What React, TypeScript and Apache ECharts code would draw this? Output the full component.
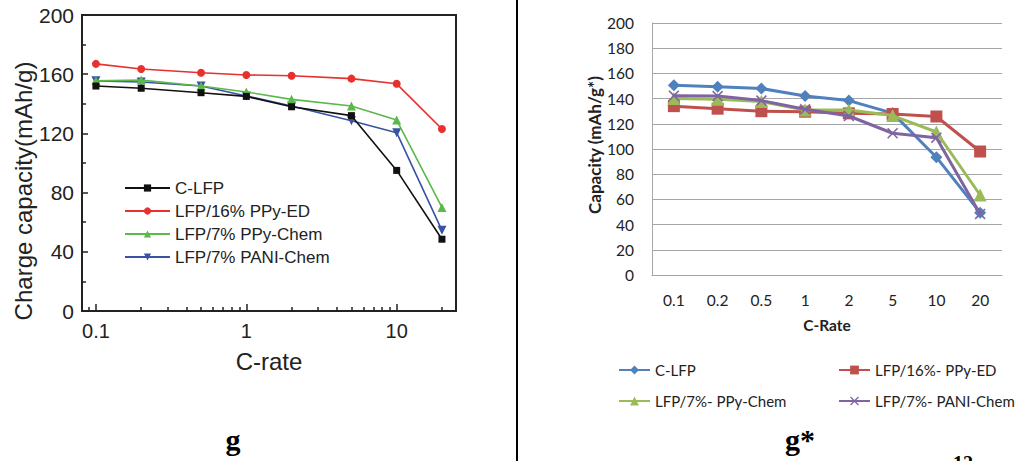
import React, { useEffect, useRef } from "react";
import * as echarts from "echarts";

// ---------- shared ----------
const rates = [0.1, 0.2, 0.5, 1, 2, 5, 10, 20];
const rateLabels = ["0.1", "0.2", "0.5", "1", "2", "5", "10", "20"];

// ---------- left panel (g) ----------
const gNames = ["C-LFP", "LFP/16% PPy-ED", "LFP/7% PPy-Chem", "LFP/7% PANI-Chem"];
const gCLFP = [152, 150.5, 147.5, 145, 138, 132, 95, 48.5];
const gPPyED = [167, 163.5, 161, 159.5, 159, 157, 153.5, 123];
const gPPyChem = [155.5, 156, 152, 148, 143, 138.5, 129, 70];
const gPANIChem = [155.5, 154.7, 152, 145.3, 138.5, 128.6, 120.5, 54.5];
const gMajorTicks = [0.1, 1, 10];
const gMinorTicks = [0.09, 0.2, 0.3, 0.4, 0.5, 0.6, 0.7, 0.8, 0.9, 2, 3, 4, 5, 6, 7, 8, 9, 20];
const gXMin = 0.0808;
const gXMax = 24.8;

// ---------- right panel (g*) ----------
const sNames = ["C-LFP ", "LFP/16%- PPy-ED", "LFP/7%- PPy-Chem", "LFP/7%- PANI-Chem"];
const sCLFP = [150.5, 149.5, 148, 142, 138.4, 128.5, 93.5, 49.5];
const sPPyED = [134, 132, 130, 129.6, 128.3, 127.8, 125.8, 98];
const sPPyChem = [140, 139.5, 137.6, 131, 131, 126.5, 113.5, 63.5];
const sPANIChem = [142.3, 142, 138.4, 131.5, 126.2, 112.5, 109, 48.5];

const L = (v: number) => Math.log10(v);
const gPairs = (vals: number[]) => rates.map((r, i) => [L(r), vals[i]]);

const XPATH = "path://M0,1L1,0L5,4L9,0L10,1L6,5L10,9L9,10L5,6L1,10L0,9L4,5Z";

export default function App() {
  const ref = useRef<HTMLDivElement>(null);
  useEffect(() => {
    if (!ref.current) return;
    const chart = echarts.init(ref.current, null, { renderer: "svg" });
    const leftFont = "'Liberation Sans', Arial, sans-serif";
    const rightFont = "Lato, 'Open Sans', sans-serif";
    const gColors = ["#111111", "#e8312e", "#5ab94a", "#3a52a3"];
    const sColors = ["#4f81bd", "#c0504d", "#9bbb59", "#8064a2"];
    const gSymbols = ["rect", "circle", "triangle", "triangle"];
    const gSymSizes = [7, 8, 9, 9];
    const gSymRot = [0, 0, 0, 180];
    const gData = [gCLFP, gPPyED, gPPyChem, gPANIChem];
    const sData = [sCLFP, sPPyED, sPPyChem, sPANIChem];
    const sSymbols = ["diamond", "rect", "triangle", XPATH];
    const sSymSizes = [12, 12, 13, 11];

    const fmtMajor = (v: number) => {
      const r = Math.pow(10, Math.round(v));
      return String(r < 1 ? Number(r.toFixed(1)) : Math.round(r));
    };

    const option: any = {
      animation: false,
      backgroundColor: "#ffffff",
      grid: [
        {
          left: 82, top: 15, width: 374, height: 296,
          show: true, borderColor: "#222", borderWidth: 2, backgroundColor: "transparent",
        },
        { left: 652, top: 23, width: 350, height: 252 },
      ],
      xAxis: [
        {
          gridIndex: 0, type: "value", position: "bottom",
          min: L(gXMin), max: L(gXMax),
          axisLine: { show: true, onZero: false, lineStyle: { color: "#222", width: 2 } },
          axisTick: {
            show: true, inside: true, length: 7,
            customValues: gMajorTicks.map(L),
            lineStyle: { color: "#222", width: 1.5 },
          },
          axisLabel: {
            customValues: gMajorTicks.map(L),
            formatter: fmtMajor,
            fontFamily: leftFont, fontSize: 20, color: "#222", margin: 10,
          },
          splitLine: { show: false },
          name: "C-rate", nameLocation: "middle", nameGap: 38,
          nameTextStyle: { fontFamily: leftFont, fontSize: 24, color: "#222" },
        },
        {
          gridIndex: 0, type: "value", position: "bottom",
          min: L(gXMin), max: L(gXMax),
          axisLine: { show: false, onZero: false },
          axisTick: {
            show: true, inside: true, length: 4,
            customValues: gMinorTicks.map(L),
            lineStyle: { color: "#222", width: 1.5 },
          },
          axisLabel: { show: false },
          splitLine: { show: false },
        },
        {
          gridIndex: 1, type: "category", data: rateLabels, boundaryGap: true,
          axisLine: { show: true, onZero: false, lineStyle: { color: "#a6a6a6", width: 1 } },
          axisTick: { show: false },
          axisLabel: { fontFamily: rightFont, fontSize: 15.5, color: "#222", margin: 17 },
          name: "C-Rate", nameLocation: "middle", nameGap: 42,
          nameTextStyle: { fontFamily: rightFont, fontSize: 15.5, fontWeight: "bold", color: "#222" },
        },
      ],
      yAxis: [
        {
          gridIndex: 0, type: "value", min: 0, max: 200, interval: 40,
          axisLine: { show: true, onZero: false, lineStyle: { color: "#222", width: 2 } },
          axisTick: { show: true, inside: true, length: 6, lineStyle: { color: "#222", width: 1.5 } },
          minorTick: { show: true, splitNumber: 2, length: 4, lineStyle: { color: "#222", width: 1.5 } },
          axisLabel: { fontFamily: leftFont, fontSize: 21, color: "#222", margin: 8 },
          splitLine: { show: false },
          name: "Charge capacity(mAh/g)", nameLocation: "middle", nameGap: 47,
          nameTextStyle: { fontFamily: leftFont, fontSize: 24, color: "#222", padding: [0, 56, 0, 0] },
        },
        {
          gridIndex: 1, type: "value", min: 0, max: 200, interval: 20,
          axisLine: { show: true, onZero: false, lineStyle: { color: "#a6a6a6", width: 1 } },
          axisTick: { show: false },
          axisLabel: { fontFamily: rightFont, fontSize: 15.5, color: "#222", margin: 18 },
          splitLine: { show: true, lineStyle: { color: "#a6a6a6", width: 1 } },
          name: "Capacity (mAh/g*)", nameLocation: "middle", nameGap: 49,
          nameTextStyle: { fontFamily: rightFont, fontSize: 17, fontWeight: "bold", color: "#222", padding: [0, 0, 0, 8] },
        },
      ],
      legend: [
        {
          orient: "vertical", left: 119, top: 174,
          data: gNames, itemWidth: 45, itemHeight: 9, itemGap: 5,
          textStyle: { fontFamily: leftFont, fontSize: 17, lineHeight: 18, color: "#222" },
        },
        ...sNames.map((n, i) => ({
          orient: "horizontal",
          left: i % 2 === 0 ? 613 : 833,
          top: i < 2 ? 356 : 387,
          data: [n], itemWidth: 31, itemHeight: 11,
          textStyle: { fontFamily: rightFont, fontSize: 15, lineHeight: 18, color: "#222" },
        })),
      ],
      series: [
        ...gNames.map((n, i) => ({
          name: n, type: "line", xAxisIndex: 0, yAxisIndex: 0,
          data: gPairs(gData[i]),
          symbol: gSymbols[i], symbolSize: gSymSizes[i], symbolRotate: gSymRot[i],
          showAllSymbol: true,
          lineStyle: { color: gColors[i], width: 1.6 },
          itemStyle: { color: gColors[i] },
          z: 10 - i,
        })),
        ...sNames.map((n, i) => ({
          name: n, type: "line", xAxisIndex: 2, yAxisIndex: 1,
          data: sData[i],
          symbol: sSymbols[i], symbolSize: sSymSizes[i],
          showAllSymbol: true,
          lineStyle: { color: sColors[i], width: 3 },
          itemStyle: { color: sColors[i] },
          z: 2 + i,
        })),
      ],
      graphic: [
        {
          type: "line", shape: { x1: 517, y1: 0, x2: 517, y2: 461 },
          style: { stroke: "#000", lineWidth: 2 },
        },
        {
          type: "text", x: 233, y: 439,
          style: {
            text: "g", fill: "#000", font: "bold 30px 'Liberation Serif', 'Times New Roman', serif",
            textAlign: "center", textVerticalAlign: "middle",
          },
        },
        {
          type: "text", x: 800, y: 439,
          style: {
            text: "g*", fill: "#000", font: "bold 30px 'Liberation Serif', 'Times New Roman', serif",
            textAlign: "center", textVerticalAlign: "middle",
          },
        },
        {
          type: "text", x: 963, y: 453,
          style: {
            text: "12", fill: "#000", font: "bold 20px 'Liberation Serif', 'Times New Roman', serif",
            textAlign: "center", textVerticalAlign: "top",
          },
        },
      ],
    };
    chart.setOption(option);
    return () => chart.dispose();
  }, []);
  return (
    <div
      ref={ref}
      style={{ position: "absolute", left: 0, top: 0, width: 1016, height: 461, background: "#fff" }}
    />
  );
}
